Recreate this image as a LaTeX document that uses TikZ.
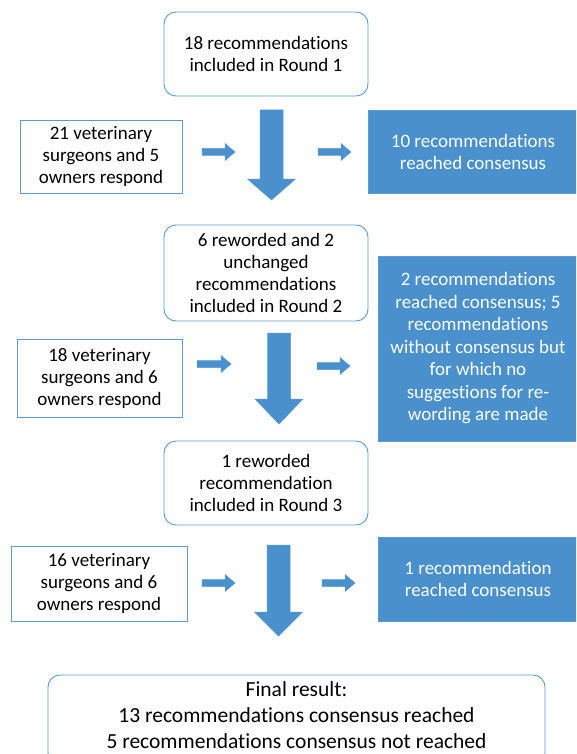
\documentclass[tikz,border=0pt]{standalone}
\usepackage{fontspec}
\setmainfont{Carlito}[Ligatures=NoCommon]
\definecolor{edgeblue}{HTML}{5B9BD5}
\definecolor{fillblue}{HTML}{4A90CD}
\tikzset{
  x=1pt, y=-1pt,
  txt/.style={font=\fontsize{19}{22}\selectfont, align=center, inner sep=2pt},
  rbox/.style={txt, draw=edgeblue, line width=0.9pt, rounded corners=12pt, fill=white},
  sbox/.style={txt, draw=edgeblue, line width=0.9pt, fill=white},
  bbox/.style={txt, draw=edgeblue, line width=0.9pt, fill=fillblue, text=white},
  blockarrow/.style={fill=fillblue, draw=edgeblue, line width=0.5pt},
}
% big down arrow: center x, top y, head base y, tip y
\newcommand{\bigdownarrow}[4]{%
  \path[blockarrow] (#1-11.5,#2) -- (#1+11.5,#2) -- (#1+11.5,#3) -- (#1+24,#3) -- (#1,#4) -- (#1-24,#3) -- (#1-11.5,#3) -- cycle;}
% small right arrow: start x, end x, center y
\newcommand{\smallrightarrow}[3]{%
  \path[blockarrow] (#1,#3-3.5) -- (#2-10,#3-3.5) -- (#2-10,#3-8.5) -- (#2,#3) -- (#2-10,#3+8.5) -- (#2-10,#3+3.5) -- (#1,#3+3.5) -- cycle;}
\begin{document}
\begin{tikzpicture}
\useasboundingbox (0,0) rectangle (576,754);
\begin{scope}
\clip (0,0) rectangle (576,754);
% Round 1
\node[rbox, minimum width=204pt, minimum height=84pt] (r1) at (266,54) {18 recommendations\\included in Round 1};
\node[sbox, minimum width=162pt, minimum height=73pt] (l1) at (101,156.5) {21 veterinary\\surgeons and 5\\owners respond};
\node[bbox, minimum width=210pt, minimum height=83pt] (b1) at (473,151.5) {10 recommendations\\reached consensus};
\bigdownarrow{271.5}{110}{179}{200}
\smallrightarrow{202}{235}{152}
\smallrightarrow{318}{351}{152}
% Round 2
\node[rbox, minimum width=204pt, minimum height=96pt] (r2) at (266,273) {6 reworded and 2\\unchanged\\recommendations\\included in Round 2};
\node[sbox, minimum width=165pt, minimum height=78pt] (l2) at (99.5,378) {18 veterinary\\surgeons and 6\\owners respond};
\node[bbox, minimum width=200pt, minimum height=185pt, font=\fontsize{19}{22.5}\selectfont] (b2) at (478,348.5) {2 recommendations\\reached consensus; 5\\recommendations\\without consensus but\\for which no\\suggestions for re-\\wording are made};
\bigdownarrow{279}{333}{399}{424}
\smallrightarrow{197}{231}{364}
\smallrightarrow{317}{350}{366}
% Round 3
\node[rbox, minimum width=204pt, minimum height=84pt] (r3) at (266,483) {1 reworded\\recommendation\\included in Round 3};
\node[sbox, minimum width=176pt, minimum height=75pt] (l3) at (99,583.5) {16 veterinary\\surgeons and 6\\owners respond};
\node[bbox, minimum width=200pt, minimum height=84pt] (b3) at (478,579) {1 recommendation\\ reached consensus};
\bigdownarrow{278.5}{545}{612}{636}
\smallrightarrow{202}{235}{583}
\smallrightarrow{322}{355}{583}
% Final
\node[rbox, minimum width=497pt, minimum height=90pt] (fin) at (296.5,720) {};
\node[txt, font=\fontsize{21.5}{26}\selectfont] (fintxt) at (296.5,715) {Final result:\\13 recommendations consensus reached\\5 recommendations consensus not reached};
\end{scope}
\end{tikzpicture}
\end{document}
